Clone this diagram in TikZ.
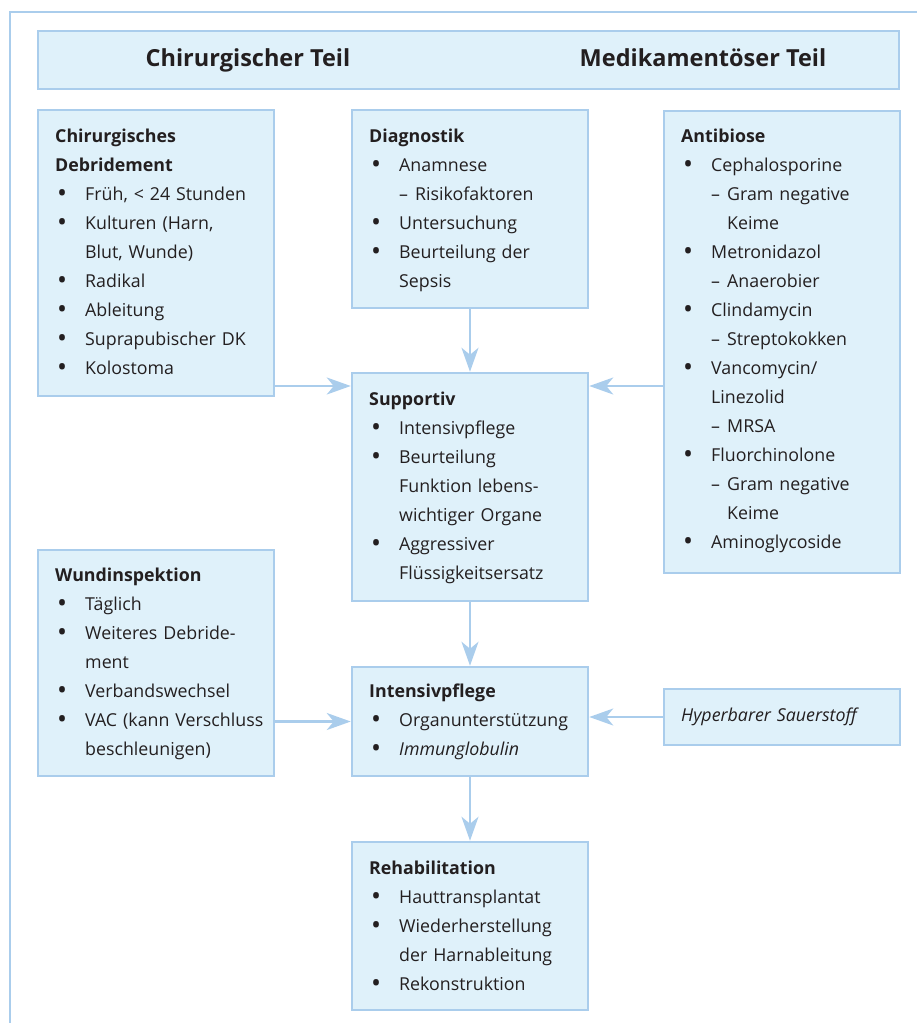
\documentclass[tikz,border=0pt]{standalone}
\usepackage{fontspec}
\setmainfont{Open Sans}
\usetikzlibrary{arrows.meta,calc}
\definecolor{boxfill}{RGB}{223,241,250}
\definecolor{boxline}{RGB}{170,205,236}
\definecolor{ink}{RGB}{35,31,32}
\newcommand\Bul{\makebox[30pt][l]{\hspace{2pt}\raisebox{-0.13em}{\scalebox{1.5}{\textbullet}}}}
\newcommand\Cnt{\hspace*{30pt}}
\newcommand\SubD{\hspace*{30pt}\makebox[16pt][l]{–}}
\newcommand\SubC{\hspace*{46pt}}
\tikzset{
  box/.style={draw=boxline, fill=boxfill, line width=2.5pt, inner sep=0pt},
  txt/.style={anchor=base west, inner sep=0pt, text width=250pt, align=left, text=ink,
              font=\fontsize{17.8}{29}\selectfont},
  head/.style={anchor=base, inner sep=0pt, text=ink, font=\fontsize{23.5}{28}\selectfont\bfseries},
  arr/.style={draw=boxline, line width=2.5pt, -{Stealth[length=24pt,width=17pt,inset=7pt]}},
  frame/.style={draw=boxline, line width=2.5pt}
}
\begin{document}
\begin{tikzpicture}[x=1pt,y=1pt]
\useasboundingbox (0,0) rectangle (917,-1023);
% outer frame
\coordinate (ftr) at (917,-12);
\coordinate (ftl) at (10,-12);
\coordinate (fbl) at (10,-1023);
\draw[frame] (ftr) -- (ftl) -- (fbl);
% boxes
\node[box, minimum width=861pt, minimum height=58pt] (hd) at (468.5,-60) {};
\node[box, minimum width=236pt, minimum height=286pt] (deb) at (156,-253) {};
\node[box, minimum width=236pt, minimum height=198pt] (diag) at (470,-209) {};
\node[box, minimum width=236pt, minimum height=462pt] (anti) at (782,-342) {};
\node[box, minimum width=236pt, minimum height=228pt] (sup) at (470,-487) {};
\node[box, minimum width=236pt, minimum height=226pt] (wund) at (156,-663) {};
\node[box, minimum width=236pt, minimum height=109pt] (int) at (470,-721.5) {};
\node[box, minimum width=236pt, minimum height=56pt] (hyp) at (782,-717) {};
\node[box, minimum width=236pt, minimum height=168pt] (reh) at (470,-926) {};
% header texts
\node[head] (h1) at (248,-66) {Chirurgischer Teil};
\node[head] (h2) at (703,-66) {Medikamentöser Teil};
% box texts
\node[txt] (tdeb) at (55,-142) {\textbf{Chirurgisches}\\\textbf{Debridement}\\
\Bul Früh, < 24 Stunden\\\Bul Kulturen (Harn,\\\Cnt Blut, Wunde)\\\Bul Radikal\\
\Bul Ableitung\\\Bul Suprapubischer DK\\\Bul Kolostoma};
\node[txt] (tdiag) at (369,-142) {\textbf{Diagnostik}\\\Bul Anamnese\\\SubD Risikofaktoren\\
\Bul Untersuchung\\\Bul Beurteilung der\\\Cnt Sepsis};
\node[txt] (tanti) at (681,-142) {\textbf{Antibiose}\\\Bul Cephalosporine\\\SubD Gram negative\\\SubC Keime\\
\Bul Metronidazol\\\SubD Anaerobier\\\Bul Clindamycin\\\SubD Streptokokken\\
\Bul Vancomycin/\\\Cnt Linezolid\\\SubD MRSA\\\Bul Fluorchinolone\\\SubD Gram negative\\\SubC Keime\\
\Bul Aminoglycoside};
\node[txt] (tsup) at (369,-405) {\textbf{Supportiv}\\\Bul Intensivpflege\\\Bul Beurteilung\\
\Cnt Funktion lebens-\\\Cnt wichtiger Organe\\\Bul Aggressiver\\\Cnt Flüssigkeitsersatz};
\node[txt] (twund) at (55,-581) {\textbf{Wundinspektion}\\\Bul Täglich\\\Bul Weiteres Debride-\\
\Cnt ment\\\Bul Verbandswechsel\\\Bul VAC (kann Verschluss\\\Cnt beschleunigen)};
\node[txt] (tint) at (369,-697) {\textbf{Intensivpflege}\\\Bul Organunterstützung\\\Bul \textit{Immunglobulin}};
\node[txt] (thyp) at (681,-721) {\textit{Hyperbarer Sauerstoff}};
\node[txt] (treh) at (369,-874) {\textbf{Rehabilitation}\\\Bul Hauttransplantat\\\Bul Wiederherstellung\\
\Cnt der Harnableitung\\\Bul Rekonstruktion};
% connectors
\coordinate (ya) at (0,-386);
\draw[arr] (deb.east |- ya) -- (sup.west |- ya);
\draw[arr] (anti.west |- ya) -- (sup.east |- ya);
\draw[arr] (diag) -- (sup);
\draw[arr] (sup) -- (int);
\draw[arr] (int) -- (reh);
\draw[arr] (wund.east |- int.west) -- (int.west);
\draw[arr] (hyp.west) -- (hyp.west -| int.east);
\end{tikzpicture}
\end{document}
